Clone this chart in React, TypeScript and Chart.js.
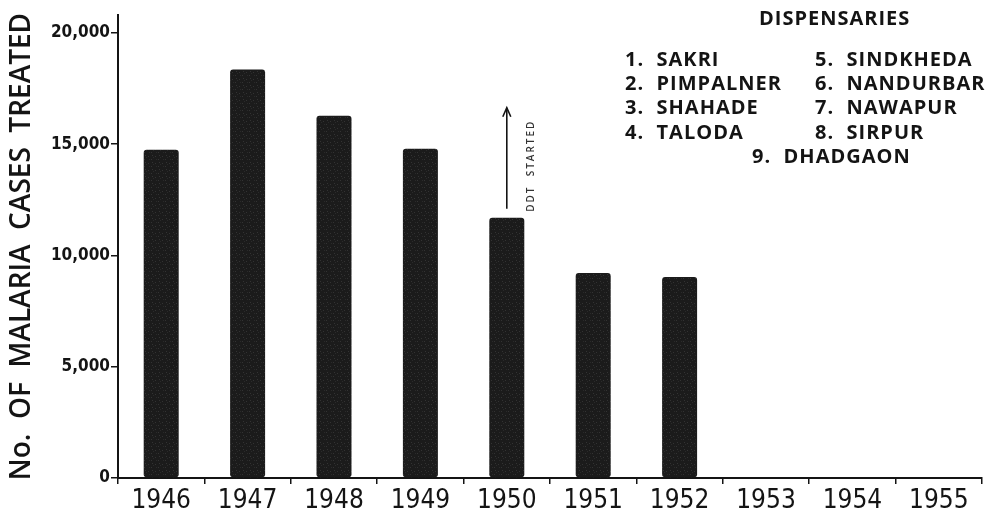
import React, { useEffect, useRef } from "react";
import { Chart, registerables } from "chart.js";

Chart.register(...registerables);

const years = ["1946", "1947", "1948", "1949", "1950", "1951", "1952", "1953", "1954", "1955"];
const casesTreated: (number | null)[] = [14750, 18350, 16270, 14790, 11690, 9210, 9030, null, null, null];
const yTickValues = [0, 5000, 10000, 15000, 20000];
const yAxisTitle = "No.  OF  MALARIA  CASES  TREATED";
const legendTitle = "DISPENSARIES";
const dispensariesLeft = ["1.  SAKRI", "2.  PIMPALNER", "3.  SHAHADE", "4.  TALODA"];
const dispensariesRight = ["5.  SINDKHEDA", "6.  NANDURBAR", "7.  NAWAPUR", "8.  SIRPUR"];
const dispensaryLast = "9.  DHADGAON";
const annotationYear = "1950";
const annotationText = "DDT  STARTED";

const INK = "#141414";
const NARROW = "'Liberation Sans Narrow', 'DejaVu Sans Condensed', sans-serif";
const BOLDSANS = "'Open Sans', 'DejaVu Sans', sans-serif";

function makePattern(): CanvasPattern | string {
  const c = document.createElement("canvas");
  c.width = 7;
  c.height = 7;
  const g = c.getContext("2d");
  if (!g) return "#1c1c1c";
  g.fillStyle = "#1b1b1b";
  g.fillRect(0, 0, 7, 7);
  g.fillStyle = "#333333";
  g.fillRect(1, 2, 1, 1);
  g.fillRect(4, 5, 1, 1);
  g.fillRect(5, 1, 1, 1);
  g.fillStyle = "#2a2a2a";
  g.fillRect(2, 5, 1, 1);
  g.fillRect(6, 3, 1, 1);
  const p = g.createPattern(c, "repeat");
  return p || "#1c1c1c";
}

const overlayPlugin = {
  id: "overlay",
  afterDraw(chart: any) {
    const ctx = chart.ctx as CanvasRenderingContext2D;
    const xs = chart.scales.x;
    const ys = chart.scales.y;
    ctx.save();
    // Legend block
    ctx.fillStyle = INK;
    ctx.textBaseline = "middle";
    ctx.textAlign = "left";
    ctx.font = `700 20px ${BOLDSANS}`;
    (ctx as any).letterSpacing = "1px";
    ctx.fillText(legendTitle, 759, 19);
    dispensariesLeft.forEach((t, i) => ctx.fillText(t, 625, 60 + i * 24.3));
    dispensariesRight.forEach((t, i) => ctx.fillText(t, 815, 60 + i * 24.3));
    ctx.fillText(dispensaryLast, 752, 157);

    // DDT arrow
    const idx = years.indexOf(annotationYear);
    const v = casesTreated[idx] as number;
    const ax = xs.getPixelForValue(idx);
    const bottom = ys.getPixelForValue(v) - 9;
    const top = bottom - 101;
    ctx.strokeStyle = INK;
    ctx.lineWidth = 1.6;
    ctx.beginPath();
    ctx.moveTo(ax, bottom);
    ctx.lineTo(ax, top);
    ctx.stroke();
    ctx.beginPath();
    ctx.moveTo(ax - 4, top + 9);
    ctx.lineTo(ax, top);
    ctx.lineTo(ax + 4, top + 9);
    ctx.stroke();

    ctx.translate(ax + 24, bottom + 3);
    ctx.rotate(-Math.PI / 2);
    ctx.font = `600 10px ${BOLDSANS}`;
    (ctx as any).letterSpacing = "2px";
    ctx.textAlign = "left";
    ctx.textBaseline = "middle";
    ctx.fillStyle = "#333";
    ctx.fillText(annotationText, 0, 0);
    ctx.restore();
  },
};

export default function App() {
  const ref = useRef<HTMLCanvasElement | null>(null);
  useEffect(() => {
    document.body.style.margin = "0";
    if (!ref.current) return;
    const fill = makePattern();
    const chart = new Chart(ref.current, {
      type: "bar",
      data: {
        labels: years,
        datasets: [
          {
            data: casesTreated as any,
            backgroundColor: fill as any,
            borderColor: "#111",
            borderWidth: 0,
            borderRadius: 3,
            borderSkipped: false,
            categoryPercentage: 1,
            barPercentage: 0.405,
          },
        ],
      },
      options: {
        animation: false,
        responsive: true,
        maintainAspectRatio: false,
        layout: { padding: { top: 15, right: 7, bottom: 0, left: 0 } },
        plugins: { legend: { display: false }, tooltip: { enabled: false } },
        scales: {
          x: {
            afterFit(scale: any) {
              scale.height = 38;
            },
            grid: {
              offset: true,
              drawOnChartArea: false,
              drawTicks: true,
              tickLength: 6,
              color: INK,
              lineWidth: 1.5,
            },
            border: { color: INK, width: 2 },
            ticks: {
              color: INK,
              padding: 2,
              font: { family: NARROW, size: 26, weight: "normal" as any },
              maxRotation: 0,
              autoSkip: false,
            },
          },
          y: {
            min: 0,
            max: 20800,
            afterFit(scale: any) {
              scale.width = 118;
            },
            afterBuildTicks(scale: any) {
              scale.ticks = yTickValues.map((v) => ({ value: v }));
            },
            grid: {
              drawOnChartArea: false,
              drawTicks: true,
              tickLength: 7,
              color: INK,
              lineWidth: 1.5,
            },
            border: { color: INK, width: 2 },
            ticks: {
              color: INK,
              padding: 1,
              font: { family: NARROW, size: 17, weight: "bold" as any },
              callback: (v: any) => Number(v).toLocaleString("en-US"),
            },
            title: {
              display: true,
              text: yAxisTitle,
              color: INK,
              padding: { top: 5, bottom: 0 },
              font: { family: BOLDSANS, size: 28, weight: "600" as any },
            },
          },
        },
      },
      plugins: [overlayPlugin],
    });
    return () => chart.destroy();
  }, []);
  return (
    <div style={{ position: "relative", width: 989, height: 516, background: "#fff" }}>
      <canvas ref={ref} />
    </div>
  );
}
